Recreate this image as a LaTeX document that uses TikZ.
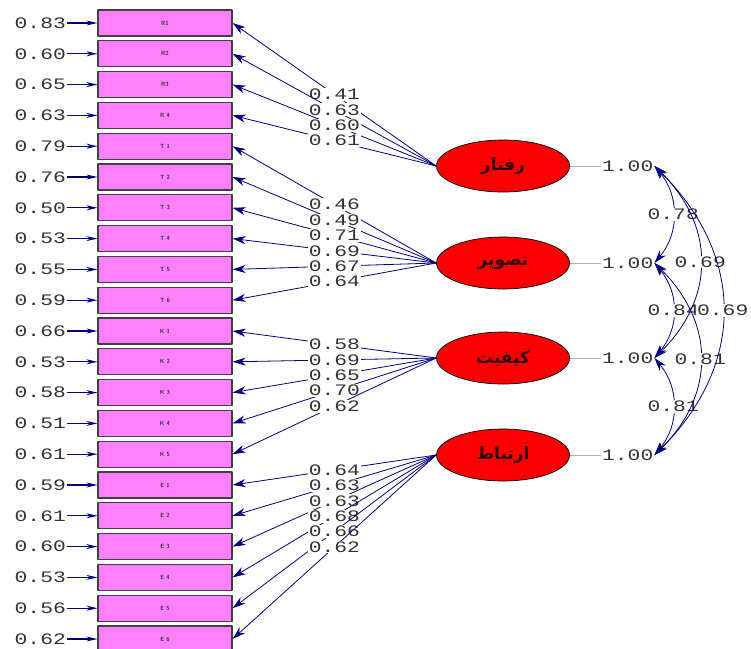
\documentclass[tikz,border=0pt]{standalone}
\usepackage{fontspec}
\usetikzlibrary{arrows.meta,shapes.geometric}
\TeXXeTstate=1
\newfontfamily\numfont[FakeStretch=1.33]{Liberation Mono}
\newfontfamily\farsifont[Script=Arabic]{DejaVu Sans}
\definecolor{navy}{RGB}{0,0,128}
\definecolor{boxpink}{RGB}{255,128,255}
\definecolor{latred}{RGB}{250,0,0}
\definecolor{lattext}{RGB}{50,0,0}
\begin{document}
\begin{tikzpicture}[x=1pt, y=-1pt, line join=round, >={Stealth[length=13pt,width=8pt,inset=4pt]},
    obs/.style={draw=black!75, line width=1.2pt, fill=boxpink, minimum width=134pt, minimum height=26pt, inner sep=0pt, font=\sffamily\bfseries\fontsize{6}{6}\selectfont, text=black!80},
    lat/.style={ellipse, draw=black, line width=0.7pt, fill=latred, minimum width=133pt, minimum height=52pt, inner sep=0pt, font=\farsifont\bfseries\fontsize{17}{17}\selectfont, text=lattext},
    val/.style={font=\numfont\fontsize{16}{16}\selectfont, text=black!80, inner sep=1pt},
    loadlbl/.style={val, fill=white, pos=0.5},
    link/.style={navy, line width=0.8pt}]
    \useasboundingbox (0,0) rectangle (751,648);
    \foreach \n/\t/\e [count=\i from 0] in {R1/R1/0.83,R2/R2/0.60,R3/R3/0.65,R4/R 4/0.63,
        T1/T 1/0.79,T2/T 2/0.76,T3/T 3/0.50,T4/T 4/0.53,T5/T 5/0.55,T6/T 6/0.59,
        K1/K 1/0.66,K2/K 2/0.53,K3/K 3/0.58,K4/K 4/0.51,K5/K 5/0.61,
        E1/E 1/0.59,E2/E 2/0.61,E3/E 3/0.60,E4/E 4/0.53,E5/E 5/0.56,E6/E 6/0.62}
    {
        \node[obs] (\n) at (165,23+30.8*\i) {\t};
        \node[val, anchor=east] (e\n) at (67,23+30.8*\i) {\e};
        \draw[link, line width=1.2pt, -{Stealth[length=11pt,width=5pt]}] (e\n.east) -- (\n.west);
    }
    \node[lat] (beh) at (503,166) {\beginR رفتار\endR};
    \node[lat] (img) at (503,263) {\beginR تصویر\endR};
    \node[lat] (qual) at (503,358) {\beginR کیفیت\endR};
    \node[lat] (rel) at (503,455) {\beginR ارتباط\endR};
    \foreach \l/\v/\y in {beh/v1/166,img/v2/263,qual/v3/358,rel/v4/455}
    {
        \node[val, anchor=west] (\v) at (601,\y) {1.00};
        \draw[black!30, line width=0.8pt] (\l.east) -- (\v.west);
    }
    \foreach \n/\w in {R1/0.41,R2/0.63,R3/0.60,R4/0.61}
        \draw[link,->] (beh.west) -- node[loadlbl]{\w} (\n.east);
    \foreach \n/\w in {T1/0.46,T2/0.49,T3/0.71,T4/0.69,T5/0.67,T6/0.64}
        \draw[link,->] (img.west) -- node[loadlbl]{\w} (\n.east);
    \foreach \n/\w in {K1/0.58,K2/0.69,K3/0.65,K4/0.70,K5/0.62}
        \draw[link,->] (qual.west) -- node[loadlbl]{\w} (\n.east);
    \foreach \n/\w in {E1/0.64,E2/0.63,E3/0.63,E4/0.68,E5/0.66,E6/0.62}
        \draw[link,->] (rel.west) -- node[loadlbl]{\w} (\n.east);
    \foreach \a/\b/\c/\h/\w in {v1/v2/25/30/0.78,v2/v3/25/30/0.84,v3/v4/25/30/0.81,
        v1/v3/61/60/0.69,v2/v4/61/60/0.81,v1/v4/91/90/0.69}
        \draw[link,<->] (\a.east) .. controls +(\c,\h) and +(\c,-\h) .. node[val, fill=white]{\w} (\b.east);
\end{tikzpicture}
\end{document}
